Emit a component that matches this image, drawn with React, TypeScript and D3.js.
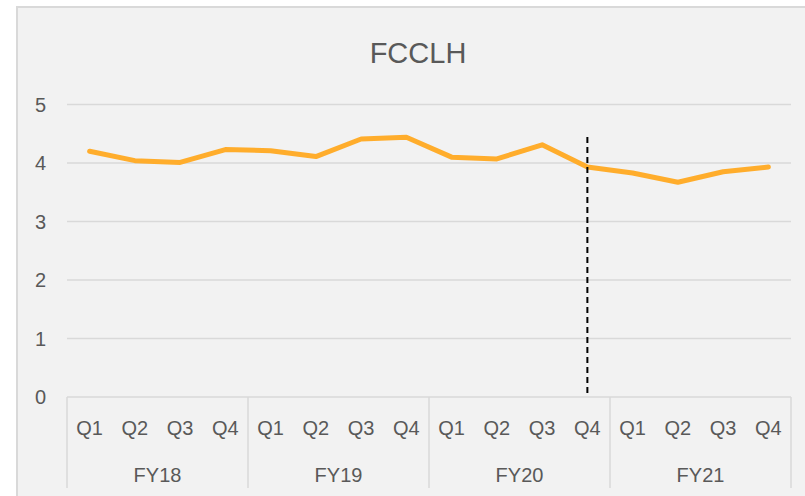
import React, { useEffect, useRef } from "react";
import * as d3 from "d3";

// FCCLH quarterly values, FY18 Q1 .. FY21 Q4
const YEARS = ["FY18", "FY19", "FY20", "FY21"];
const QUARTERS = ["Q1", "Q2", "Q3", "Q4"];
const VALUES = [
  4.20, 4.04, 4.01, 4.23,
  4.21, 4.11, 4.41, 4.44,
  4.10, 4.07, 4.31, 3.93,
  3.83, 3.67, 3.85, 3.93,
];
const Y_TICKS = [0, 1, 2, 3, 4, 5];
const MARKER_KEY = "FY20-Q4";

export default function App() {
  const svgRef = useRef<SVGSVGElement>(null);

  useEffect(() => {
    const width = 805;
    const height = 496;
    const left = 67, right = 791, top = 104.5, bottom = 397;
    const textColor = "#595959";
    const gridColor = "#d9d9d9";
    const font = "'Liberation Sans', Arial, sans-serif";

    const svg = d3.select(svgRef.current);
    svg.selectAll("*").remove();
    svg.attr("width", width).attr("height", height);

    const keys = YEARS.flatMap(y => QUARTERS.map(q => `${y}-${q}`));
    const data = keys.map((k, i) => ({ key: k, year: k.split("-")[0], q: k.split("-")[1], value: VALUES[i] }));

    const x = d3.scaleBand<string>().domain(keys).range([left, right]);
    const yearX = d3.scaleBand<string>().domain(YEARS).range([left, right]);
    const y = d3.scaleLinear().domain([0, 5]).range([bottom, top]);

    // chart area background + border
    svg.append("rect")
      .attr("x", 17).attr("y", 7)
      .attr("width", width + 10).attr("height", height + 10)
      .attr("fill", "#f2f2f2")
      .attr("stroke", gridColor).attr("stroke-width", 2);

    svg.append("text")
      .attr("x", 418).attr("y", 63)
      .attr("text-anchor", "middle")
      .attr("fill", textColor)
      .style("font-family", font).style("font-size", "29px")
      .text("FCCLH");

    // grid
    svg.selectAll(".grid")
      .data(Y_TICKS)
      .join("line")
      .attr("x1", left).attr("x2", right)
      .attr("y1", d => y(d)).attr("y2", d => y(d))
      .attr("stroke", gridColor).attr("stroke-width", 1.5);

    svg.selectAll(".ylab")
      .data(Y_TICKS)
      .join("text")
      .attr("x", 46).attr("y", d => y(d) + 7)
      .attr("text-anchor", "end")
      .attr("fill", textColor)
      .style("font-family", font).style("font-size", "20px")
      .text(d => d);

    // category axis separators
    const seps = YEARS.map(yr => yearX(yr)!).concat([right]);
    svg.selectAll(".sep")
      .data(seps)
      .join("line")
      .attr("x1", d => d).attr("x2", d => d)
      .attr("y1", bottom).attr("y2", 488)
      .attr("stroke", gridColor).attr("stroke-width", 1.5);

    svg.selectAll(".qlab")
      .data(data)
      .join("text")
      .attr("x", d => x(d.key)! + x.bandwidth() / 2)
      .attr("y", 435)
      .attr("text-anchor", "middle")
      .attr("fill", textColor)
      .style("font-family", font).style("font-size", "20px")
      .text(d => d.q);

    svg.selectAll(".ylabel")
      .data(YEARS)
      .join("text")
      .attr("x", d => yearX(d)! + yearX.bandwidth() / 2)
      .attr("y", 482)
      .attr("text-anchor", "middle")
      .attr("fill", textColor)
      .style("font-family", font).style("font-size", "20px")
      .text(d => d);

    // line
    const line = d3.line<typeof data[number]>()
      .x(d => x(d.key)! + x.bandwidth() / 2)
      .y(d => y(d.value));

    svg.append("path")
      .datum(data)
      .attr("d", line)
      .attr("fill", "none")
      .attr("stroke", "#ffad2c")
      .attr("stroke-width", 5)
      .attr("stroke-linejoin", "round")
      .attr("stroke-linecap", "round");

    // dashed marker
    const mx = x(MARKER_KEY)! + x.bandwidth() / 2;
    svg.append("line")
      .attr("x1", mx).attr("x2", mx)
      .attr("y1", 137).attr("y2", bottom)
      .attr("stroke", "#000").attr("stroke-width", 2)
      .attr("stroke-dasharray", "6,4");
  }, []);

  return (
    <div style={{ position: "fixed", left: 0, top: 0, width: 805, height: 496, background: "#fff" }}>
      <svg ref={svgRef} style={{ display: "block" }} />
    </div>
  );
}
